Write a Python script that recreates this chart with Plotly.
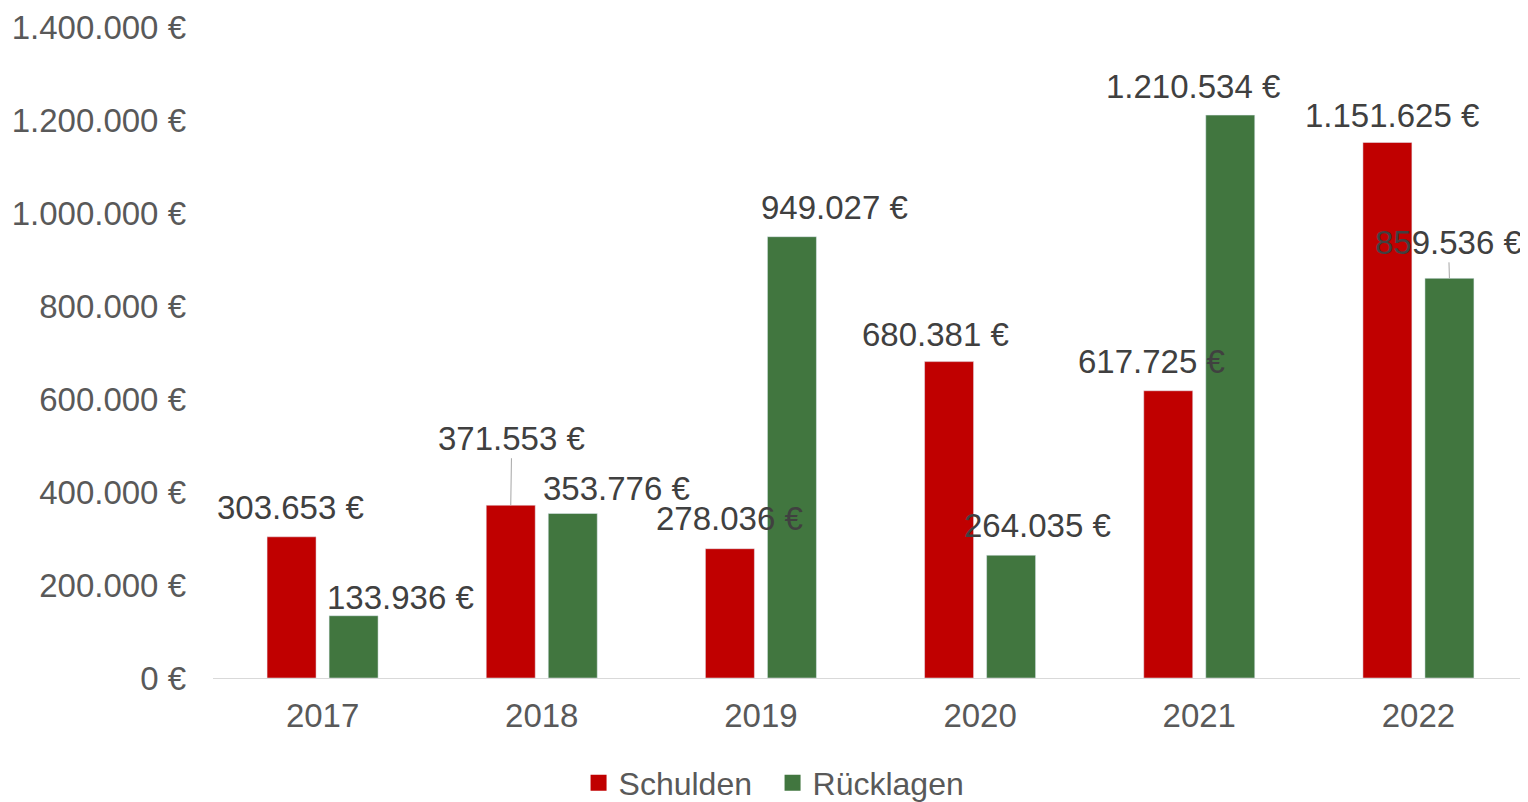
import plotly.graph_objects as go

years = ["2017", "2018", "2019", "2020", "2021", "2022"]
schulden = [303653, 371553, 278036, 680381, 617725, 1151625]
ruecklagen = [133936, 353776, 949027, 264035, 1210534, 859536]
y_ticks = [0, 200000, 400000, 600000, 800000, 1000000, 1200000, 1400000]

RED = "#C00000"
GREEN = "#41763F"
TXT = "#595959"
LBL = "#404040"
FONT = "Liberation Sans, Arial, sans-serif"
FS = 33


def eur(v):
    return f"{v:,.0f}".replace(",", ".") + " €"


# label placement (pixel offsets from bar top, style only)
s_dx = [-1, 1, 0, -14, -17, 5]
s_dy = [-29, -67, -30, -27, -29, -27]
s_lead = [False, True, False, False, False, False]
r_dx = [47, 44, 43, 26, -37, -1]
r_dy = [-18, -25, -29, -30, -29, -36]
r_lead = [False, False, False, False, False, True]
BAR_OFF = 31

fig = go.Figure()
fig.add_trace(go.Bar(x=years, y=schulden, name="Schulden", marker_color=RED, showlegend=False))
fig.add_trace(go.Bar(x=years, y=ruecklagen, name="Rücklagen", marker_color=GREEN, showlegend=False))
# legend proxies on a hidden axis pair
fig.add_trace(go.Scatter(x=[None], y=[None], mode="markers", name="Schulden", xaxis="x2", yaxis="y2",
                         marker=dict(symbol="square", size=18, color=RED)))
fig.add_trace(go.Scatter(x=[None], y=[None], mode="markers", name="Rücklagen", xaxis="x2", yaxis="y2",
                         marker=dict(symbol="square", size=18, color=GREEN)))

anns = []
for vals, dxs, dys, leads, off in [(schulden, s_dx, s_dy, s_lead, -BAR_OFF),
                                  (ruecklagen, r_dx, r_dy, r_lead, BAR_OFF)]:
    for i, (v, dx, dy, lead) in enumerate(zip(vals, dxs, dys, leads)):
        anns.append(dict(
            x=i, y=v, xref="x", yref="y", text=eur(v),
            showarrow=True, ax=dx, ay=dy, axref="pixel", ayref="pixel",
            xshift=off, arrowhead=0, arrowwidth=1,
            arrowcolor="#A6A6A6" if lead else "rgba(0,0,0,0)",
            font=dict(family=FONT, size=FS, color=LBL),
            xanchor="center", yanchor="middle",
        ))

fig.update_layout(
    width=1520, height=794,
    margin=dict(l=205, r=0, t=19, b=124),
    paper_bgcolor="white", plot_bgcolor="white",
    barmode="group", bargap=0.434, bargroupgap=0.21,
    font=dict(family=FONT, size=FS, color=TXT),
    annotations=anns,
    legend=dict(orientation="h", x=0.503, xanchor="center", xref="container",
                y=0.024, yanchor="middle", yref="container",
                font=dict(family=FONT, size=32, color=TXT), itemwidth=30,
                entrywidth=149, tracegroupgap=0),
    showlegend=True,
    xaxis2=dict(overlaying="x", visible=False, range=[0, 1]),
    yaxis2=dict(overlaying="y", visible=False, range=[0, 1]),
)
fig.update_layout(
    xaxis=dict(type="category", range=[-0.5, len(years) - 0.5], showgrid=False, showline=True,
               linecolor="#D9D9D9", linewidth=1, ticks="", automargin=False,
               ticklabelstandoff=8, tickfont=dict(family=FONT, size=FS, color=TXT)),
    yaxis=dict(range=[0, 1400000], tickvals=y_ticks, ticktext=[eur(v) for v in y_ticks],
               showgrid=False, zeroline=False, showline=False, ticks="", automargin=False,
               ticklabelstandoff=26, tickfont=dict(family=FONT, size=FS, color=TXT)),
)

fig.write_html("out.html")
